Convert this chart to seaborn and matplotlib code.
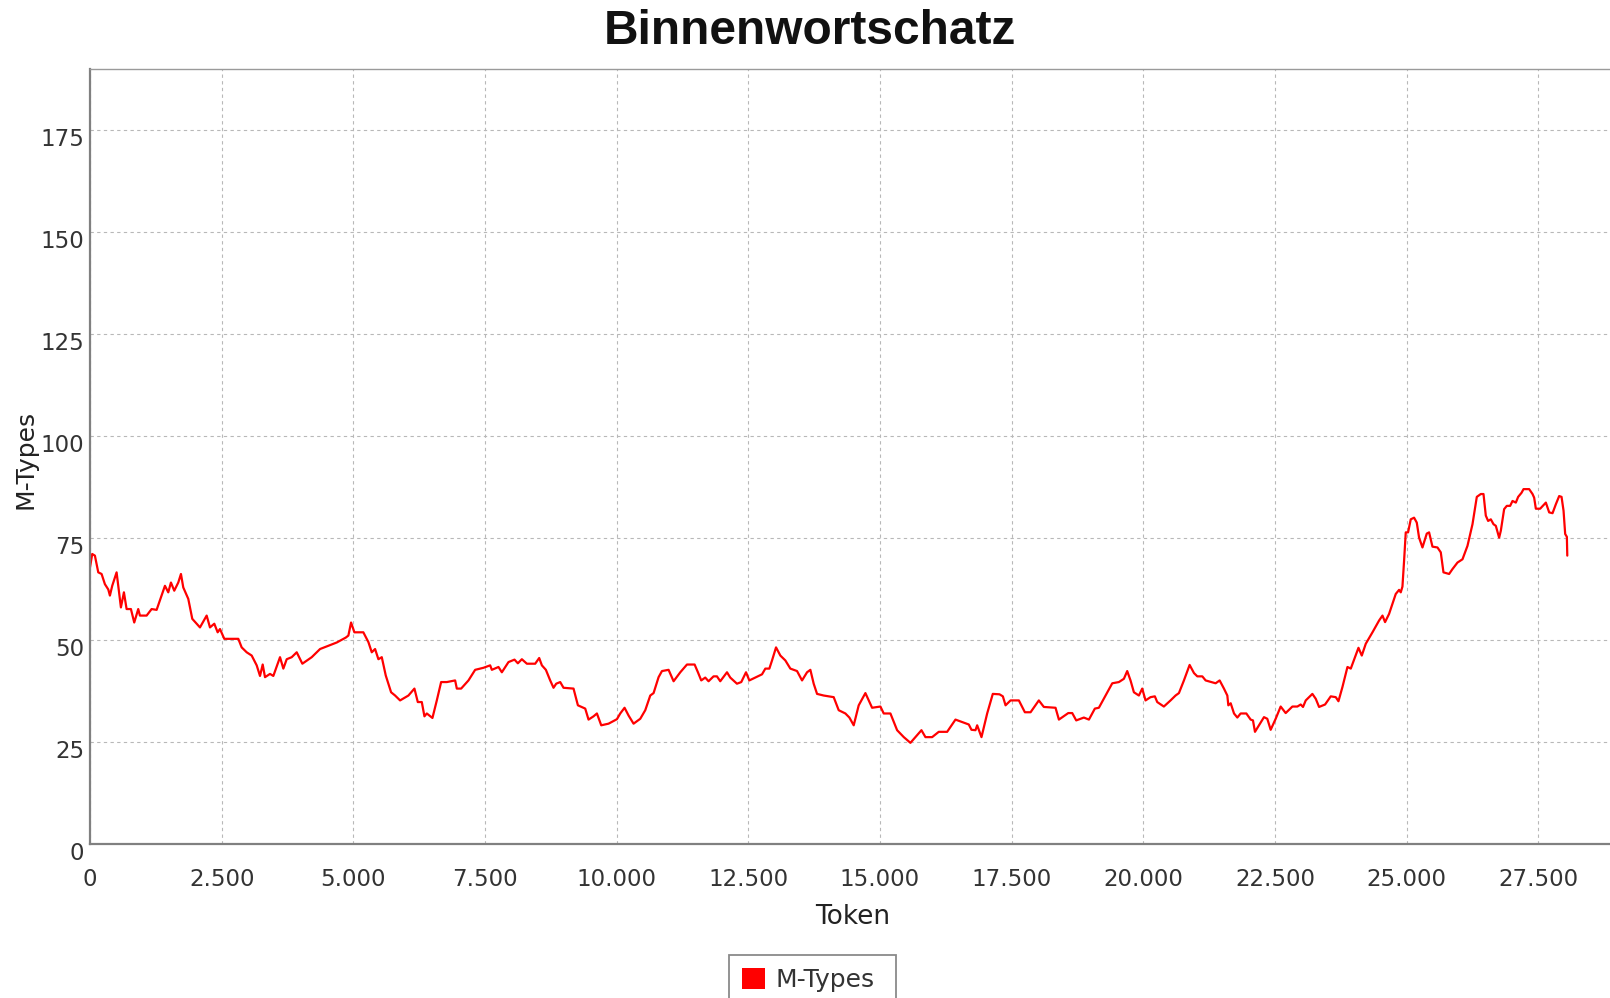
import numpy as np
import pandas as pd
import matplotlib
matplotlib.use("Agg")
import matplotlib.pyplot as plt
import matplotlib.transforms as mtransforms
from matplotlib.patches import Patch, Rectangle
from matplotlib.ticker import FuncFormatter
import seaborn as sns

# ---------------- data ----------------
title = "Binnenwortschatz"
x_label = "Token"
y_label = "M-Types"
series_name = "M-Types"

tokens = [
    0, 42, 93, 157, 220, 283, 347, 378, 422, 505, 587, 644, 695, 777, 840, 916, 948,
    1075, 1170, 1265, 1423, 1486, 1537, 1600, 1676, 1727, 1771, 1866, 1942, 2088,
    2215, 2278, 2360, 2424, 2468, 2550, 2816, 2880, 2975, 3070, 3165, 3228, 3279,
    3323, 3418, 3481, 3608, 3671, 3735, 3830, 3925, 4032, 4210, 4368, 4526, 4685,
    4856, 4906, 4957, 5020, 5190,
    5286, 5350, 5413, 5476, 5540, 5616, 5666, 5717, 5793, 5888, 6046, 6160, 6224,
    6300, 6350, 6395, 6502, 6585, 6667, 6775, 6933, 6965, 7047, 7186, 7313, 7471,
    7598, 7630, 7756, 7820, 7946, 8060, 8124, 8200, 8295, 8453, 8529, 8580, 8656,
    8738, 8801, 8852, 8928, 8991, 9181, 9264, 9403, 9466, 9561, 9625, 9707, 9846,
    10005, 10068, 10150, 10226, 10321,
    10448, 10543, 10638, 10701, 10796, 10860, 10986, 11081, 11208, 11335, 11480,
    11543, 11606, 11682, 11745, 11840, 11904, 11967, 12095, 12157, 12284, 12366,
    12456, 12519, 12633, 12760, 12823, 12899, 12950, 13026, 13108, 13203, 13298,
    13425, 13520, 13615, 13678, 13741, 13805, 13931, 14121, 14216, 14343, 14419,
    14501, 14596, 14723, 14850, 15008, 15071, 15198, 15325, 15452,
    15578, 15673, 15787, 15863, 15990, 16116, 16275, 16433, 16560, 16686, 16737,
    16813, 16845, 16927, 17035, 17142, 17269, 17333, 17384, 17479, 17637, 17751,
    17859, 18016, 18111, 18333, 18397, 18575, 18650, 18726, 18871, 18967, 19080,
    19156, 19283, 19410, 19536, 19631, 19694, 19757, 19821, 19916, 19979, 20042,
    20137, 20219, 20264, 20390, 20517, 20612,
    20676, 20771, 20879, 20962, 21025, 21120, 21183, 21373, 21449, 21531, 21595,
    21614, 21659, 21722, 21785, 21848, 21956, 22038, 22082, 22120, 22196, 22291,
    22354, 22418, 22513, 22608, 22703, 22830, 22925, 22988, 23032, 23084, 23210,
    23274, 23337, 23451, 23559, 23654, 23705, 23781, 23876, 23939, 24002, 24085,
    24148, 24224, 24351, 24477, 24541, 24590, 24666, 24793, 24856, 24888, 24920,
    24951,
    24983, 25027, 25078, 25141, 25192, 25236, 25300, 25382, 25426, 25490, 25585,
    25648, 25699, 25806, 25870, 25965, 26060, 26155, 26250, 26332, 26408, 26459,
    26503, 26547, 26598, 26649, 26693, 26756, 26788, 26851, 26902, 26965, 27010,
    27073, 27117, 27181, 27219, 27326, 27390, 27421, 27453, 27535, 27643, 27706,
    27770, 27833, 27896, 27941, 27979, 28010, 28042, 28050,
]

m_types = [
    67.8, 71.1, 70.7, 66.6, 66.2, 63.7, 62.4, 60.9, 63.3, 66.6, 58.0, 61.7, 57.6, 57.6,
    54.3, 57.6, 56.0, 56.0, 57.6, 57.4, 63.3, 61.7, 64.1, 62.1, 64.1, 66.2, 62.9, 60.1,
    55.2, 53.1, 56.0, 53.1, 54.0, 51.9, 52.7, 50.3, 50.3, 48.2, 47.0, 46.2, 43.8, 41.2,
    44.0, 40.9, 41.7, 41.2, 45.8, 43.0, 45.3, 45.8, 47.0, 44.2, 45.8, 47.8, 48.6, 49.4,
    50.6, 51.1, 54.3, 51.9, 51.9,
    49.5, 47.0, 47.8, 45.3, 45.8, 41.3, 39.3, 37.2, 36.4, 35.2, 36.4, 38.1, 34.8,
    34.8, 31.3, 32.0, 30.9, 35.2, 39.7, 39.7, 40.1, 38.1, 38.1, 40.1, 42.7, 43.2,
    43.8, 42.7, 43.4, 42.1, 44.6, 45.2, 44.3, 45.3, 44.2, 44.2, 45.6, 43.8, 42.7,
    40.1, 38.3, 39.3, 39.7, 38.3, 38.1, 34.0, 33.2, 30.5, 31.3, 32.0, 29.1, 29.5,
    30.6, 32.0, 33.4, 31.5, 29.5,
    30.7, 32.8, 36.4, 37.0, 40.9, 42.4, 42.7, 39.9, 42.1, 44.0, 44.0,
    42.1, 40.1, 40.8, 39.9, 41.1, 41.1, 39.9, 42.1, 40.8, 39.3, 39.7,
    42.1, 40.1, 40.8, 41.6, 43.0, 43.0, 45.0, 48.2, 46.2, 45.0, 43.0,
    42.4, 40.1, 42.1, 42.7, 39.3, 36.8, 36.4, 36.0, 32.8, 32.0, 31.0,
    29.1, 34.0, 37.0, 33.4, 33.7, 32.0, 32.0, 27.9, 26.2,
    24.8, 26.2, 27.9, 26.2, 26.2, 27.5, 27.5, 30.5, 29.9, 29.3, 28.0,
    27.9, 29.1, 26.2, 32.0, 36.8, 36.7, 36.2, 34.0, 35.2, 35.2, 32.3,
    32.3, 35.2, 33.6, 33.4, 30.5, 32.1, 32.1, 30.3, 31.0, 30.5, 33.2,
    33.4, 36.4, 39.4, 39.7, 40.5, 42.4, 40.1, 37.2, 36.4, 38.1, 35.2,
    36.0, 36.2, 34.8, 33.7, 35.2, 36.4,
    37.0, 40.1, 43.9, 41.9, 41.1, 41.1, 40.1, 39.4, 40.1, 38.1, 36.4,
    34.0, 34.5, 32.0, 31.0, 32.0, 32.0, 30.5, 30.3, 27.5, 29.1, 31.1,
    30.7, 28.0, 30.7, 33.7, 32.1, 33.7, 33.7, 34.2, 33.6, 35.2, 36.8,
    35.6, 33.6, 34.2, 36.2, 36.0, 35.0, 38.5, 43.4, 43.0, 45.2, 48.1,
    46.2, 49.1, 51.9, 54.8, 56.0, 54.4, 56.4, 61.3, 62.3, 61.7, 63.1,
    69.4,
    76.4, 76.4, 79.6, 80.0, 78.8, 75.1, 72.7, 76.1, 76.4, 72.9, 72.7,
    71.5, 66.6, 66.2, 67.4, 69.0, 69.8, 73.1, 78.4, 85.1, 85.8, 85.8,
    80.5, 79.2, 79.6, 78.4, 78.0, 75.1, 76.8, 82.1, 82.9, 82.9, 84.1,
    83.7, 85.1, 86.1, 87.0, 87.0, 85.8, 84.9, 82.2, 82.2, 83.7, 81.3,
    81.1, 83.3, 85.3, 85.1, 81.7, 76.0, 75.3, 70.7,
]

x_ticks = list(range(0, 27501, 2500))
y_ticks = list(range(0, 176, 25))

df = pd.DataFrame({"Token": tokens, "M-Types": m_types})

# ---------------- style ----------------
sns.set_style("white")
plt.rcParams["font.family"] = ["DejaVu Sans"]

W, H = 1610, 998
fig = plt.figure(figsize=(W / 100, H / 100), dpi=100)
fig.patch.set_facecolor("white")

left_px, right_px, top_px, bottom_px = 90, 1611, 69, 844
ax = fig.add_axes([left_px / W, 1 - bottom_px / H,
                   (right_px - left_px) / W, (bottom_px - top_px) / H])
ax.set_facecolor("white")

sns.lineplot(data=df, x="Token", y="M-Types", estimator=None, sort=False,
             color="#ff0000", linewidth=1.6, ax=ax, legend=False)

ax.set_xlim(0, 28880)
ax.set_ylim(0, 190)
ax.set_xticks(x_ticks)
ax.set_yticks(y_ticks)
ax.xaxis.set_major_formatter(FuncFormatter(lambda v, p: f"{int(v):,}".replace(",", ".")))

ax.grid(True, color="#b8b8b8", linestyle=(0, (3, 3)), linewidth=0.8)
ax.set_axisbelow(True)

for s in ["left", "bottom"]:
    ax.spines[s].set_color("#808080")
    ax.spines[s].set_linewidth(1.6)
ax.spines["top"].set_color("#9a9a9a")
ax.spines["top"].set_linewidth(1.0)
ax.spines["right"].set_visible(False)

ax.tick_params(axis="both", length=0, labelsize=16.5, labelcolor="#333333")
ax.tick_params(axis="x", pad=17)
ax.tick_params(axis="y", pad=4)

# JFreeChart-style: y tick labels sit slightly below their gridline
offset = mtransforms.ScaledTranslation(0, -7 / 100, fig.dpi_scale_trans)
for lab in ax.get_yticklabels():
    lab.set_transform(lab.get_transform() + offset)

ax.set_xlabel(x_label, fontsize=19, color="#222222")
ax.set_ylabel(y_label, fontsize=18, color="#222222")
ax.xaxis.set_label_coords((853 - left_px) / (right_px - left_px), (bottom_px - 904) / (bottom_px - top_px))
ax.yaxis.set_label_coords((38 - left_px) / (right_px - left_px), 0.496)

fig.text(810 / W, 1 - 31 / H, title, ha="center", va="center",
         fontsize=34.5, fontweight="bold", color="#111111",
         family=["Liberation Sans", "DejaVu Sans"])

# legend (frame drawn separately to match the wide JFreeChart box)
leg = fig.legend(handles=[Patch(facecolor="#ff0000", edgecolor="none", label=series_name)],
                 loc="upper left", bbox_to_anchor=(729 / W, 1 - 955 / H),
                 bbox_transform=fig.transFigure, borderaxespad=0,
                 frameon=False, fontsize=18,
                 handlelength=0.95, handleheight=0.95, handletextpad=0.4,
                 borderpad=0.5)
for t in leg.get_texts():
    t.set_color("#333333")
fig.patches.append(Rectangle((729 / W, 1 - 1003 / H), (896 - 729) / W, (1003 - 955) / H,
                             transform=fig.transFigure, fill=False,
                             edgecolor="#8a8a8a", linewidth=1.3))

fig.savefig("out.png", dpi=100, facecolor="white")
